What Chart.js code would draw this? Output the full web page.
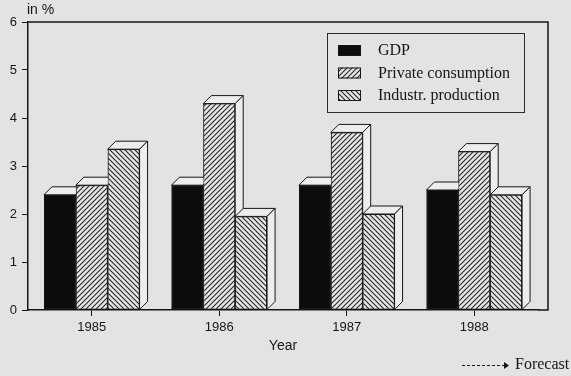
<!DOCTYPE html>
<html>
<head>
<meta charset="utf-8">
<title>Growth rates 1985-1988</title>
<script src="https://cdn.jsdelivr.net/npm/chart.js@4.4.1/dist/chart.umd.min.js"></script>
<style>
  html, body { margin: 0; padding: 0; background: #e3e3e3; }
  canvas { display: block; }
</style>
</head>
<body>
<canvas id="growthChart" width="571" height="376"></canvas>
<script>
const years = ['1985', '1986', '1987', '1988'];
const seriesLabels = ['GDP', 'Private consumption', 'Industr. production'];
const gdp = [2.4, 2.6, 2.6, 2.5];
const privateConsumption = [2.6, 4.3, 3.7, 3.3];
const industrProduction = [3.35, 1.95, 2.0, 2.4];
const yTicks = [0, 1, 2, 3, 4, 5, 6];

const ink = '#161616';
const paper = '#e6e6e6';
const canvas = document.getElementById('growthChart');
const mainCtx = canvas.getContext('2d');

// diagonal hatch tile, dir 1 = "/" and -1 = "\"
function hatch(dir) {
    const s = 5;
    const c = document.createElement('canvas');
    c.width = s; c.height = s;
    const g = c.getContext('2d');
    g.fillStyle = paper;
    g.fillRect(0, 0, s, s);
    g.strokeStyle = '#262626';
    g.lineWidth = 1.1;
    g.beginPath();
    if (dir > 0) {
        g.moveTo(0, s); g.lineTo(s, 0);
        g.moveTo(-1, 1); g.lineTo(1, -1);
        g.moveTo(s - 1, s + 1); g.lineTo(s + 1, s - 1);
    } else {
        g.moveTo(0, 0); g.lineTo(s, s);
        g.moveTo(-1, s - 1); g.lineTo(1, s + 1);
        g.moveTo(s - 1, -1); g.lineTo(s + 1, 1);
    }
    g.stroke();
    return mainCtx.createPattern(c, 'repeat');
}

const fills = ['#0c0c0c', hatch(1), hatch(-1)];
const depth = { dx: 8, dy: 8 };

// redraw bars left to right: top and side faces first, then the front
const bar3d = {
    id: 'bar3d',
    afterDatasetsDraw(chart) {
        const ctx = chart.ctx;
        const { dx, dy } = depth;
        ctx.save();
        ctx.lineJoin = 'round';
        chart.data.datasets.forEach((ds, i) => {
            chart.getDatasetMeta(i).data.forEach(bar => {
                const p = bar.getProps(['x', 'y', 'base', 'width'], true);
                const l = p.x - p.width / 2, r = p.x + p.width / 2;
                const t = p.y, b = p.base;
                ctx.fillStyle = '#ededed';
                ctx.strokeStyle = ink;
                ctx.lineWidth = 1;
                ctx.beginPath();
                ctx.moveTo(l, t);
                ctx.lineTo(l + dx, t - dy);
                ctx.lineTo(r + dx, t - dy);
                ctx.lineTo(r, t);
                ctx.closePath();
                ctx.fill(); ctx.stroke();
                ctx.beginPath();
                ctx.moveTo(r, t);
                ctx.lineTo(r + dx, t - dy);
                ctx.lineTo(r + dx, b - dy);
                ctx.lineTo(r, b);
                ctx.closePath();
                ctx.fill(); ctx.stroke();
                bar.draw(ctx);
            });
        });
        ctx.restore();
    }
};

// frame, unit label, legend box and forecast note
const extras = {
    id: 'extras',
    afterDraw(chart) {
        const ctx = chart.ctx;
        const a = chart.chartArea;
        const frameRight = a.right + 10;
        ctx.save();
        ctx.strokeStyle = ink;
        ctx.lineWidth = 1.5;
        ctx.beginPath();
        ctx.moveTo(a.left, a.top);
        ctx.lineTo(frameRight, a.top);
        ctx.lineTo(frameRight, a.bottom);
        ctx.lineTo(a.right, a.bottom);
        ctx.stroke();

        ctx.fillStyle = ink;
        ctx.font = '14px "Liberation Sans", Arial, sans-serif';
        ctx.textBaseline = 'middle';
        ctx.textAlign = 'left';
        ctx.fillText('in %', 27, 10);

        // legend
        const lx = 327, ly = 33, lw = 197, lh = 79;
        ctx.lineWidth = 1;
        ctx.strokeStyle = '#2a2a2a';
        ctx.strokeRect(lx + 0.5, ly + 0.5, lw, lh);
        ctx.font = '16px "Liberation Serif", "Times New Roman", serif';
        chart.data.datasets.forEach((ds, i) => {
            const cy = 51 + i * 22.5;
            ctx.fillStyle = ds.backgroundColor;
            ctx.fillRect(338, cy - 6, 23, 11);
            ctx.strokeStyle = ink;
            ctx.strokeRect(338.5, cy - 5.5, 22, 10);
            ctx.fillStyle = ink;
            ctx.fillText(ds.label, 378, cy);
        });

        // forecast note
        ctx.strokeStyle = ink;
        ctx.lineWidth = 1;
        ctx.setLineDash([3, 2]);
        ctx.beginPath();
        ctx.moveTo(462, 365.5);
        ctx.lineTo(505, 365.5);
        ctx.stroke();
        ctx.setLineDash([]);
        ctx.beginPath();
        ctx.moveTo(504, 362);
        ctx.lineTo(509, 365.5);
        ctx.lineTo(504, 369);
        ctx.closePath();
        ctx.fill();
        ctx.fillText('Forecast', 515, 365);
        ctx.restore();
    }
};

new Chart(canvas, {
    type: 'bar',
    data: {
        labels: years,
        datasets: [
            { label: seriesLabels[0], data: gdp, backgroundColor: fills[0] },
            { label: seriesLabels[1], data: privateConsumption, backgroundColor: fills[1] },
            { label: seriesLabels[2], data: industrProduction, backgroundColor: fills[2] }
        ]
    },
    options: {
        responsive: false,
        animation: false,
        layout: { padding: { top: 22, right: 33, bottom: 0, left: 0 } },
        datasets: {
            bar: {
                categoryPercentage: 0.75,
                barPercentage: 1.0,
                borderColor: ink,
                borderWidth: 1,
                borderSkipped: false
            }
        },
        plugins: {
            legend: { display: false },
            tooltip: { enabled: false }
        },
        scales: {
            x: {
                afterFit(scale) { scale.height = 66; },
                grid: {
                    offset: false,
                    drawOnChartArea: false,
                    drawTicks: true,
                    tickLength: 6,
                    color: ink
                },
                border: { display: true, color: ink, width: 1.5 },
                ticks: {
                    padding: 4,
                    color: ink,
                    font: { family: '"Liberation Sans", Arial, sans-serif', size: 13 }
                },
                title: {
                    display: true,
                    text: 'Year',
                    color: ink,
                    font: { family: '"Liberation Sans", Arial, sans-serif', size: 14 },
                    padding: { top: 0, bottom: 21 }
                }
            },
            y: {
                min: yTicks[0],
                max: yTicks[yTicks.length - 1],
                afterFit(scale) { scale.width = 28; },
                afterBuildTicks(scale) { scale.ticks = yTicks.map(v => ({ value: v })); },
                grid: {
                    drawOnChartArea: false,
                    drawTicks: true,
                    tickLength: 6,
                    color: ink
                },
                border: { display: true, color: ink, width: 1.5 },
                ticks: {
                    padding: 5,
                    color: ink,
                    font: { family: '"Liberation Sans", Arial, sans-serif', size: 13 }
                }
            }
        }
    },
    plugins: [bar3d, extras]
});
</script>
</body>
</html>
